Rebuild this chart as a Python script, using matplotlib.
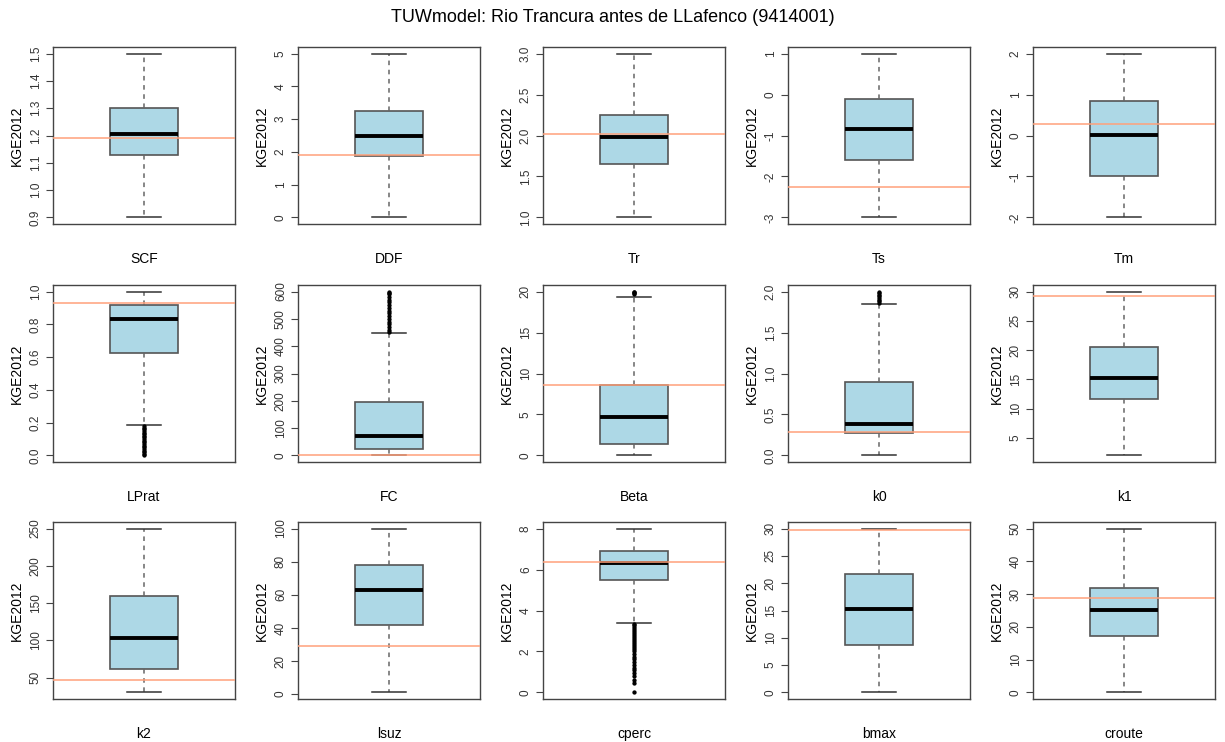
import matplotlib
matplotlib.use("Agg")
import matplotlib.pyplot as plt

plt.rcParams['font.family'] = ['Liberation Sans', 'DejaVu Sans']
plt.rcParams['axes.unicode_minus'] = False

title = "TUWmodel: Rio Trancura antes de LLafenco (9414001)"
params = ["SCF", "DDF", "Tr", "Ts", "Tm",
          "LPrat", "FC", "Beta", "k0", "k1",
          "k2", "lsuz", "cperc", "bmax", "croute"]

# box statistics: lower whisker, q1, median, q3, upper whisker
whis_lo = [0.9, 0.0, 1.0, -3.0, -2.0, 0.185, 0.0, 0.0, 0.0, 2.0, 30.0, 1.0, 3.4, 0.0, 0.0]
q1 = [1.13, 1.87, 1.65, -1.6, -1.0, 0.625, 25.0, 1.35, 0.28, 11.7, 62.0, 42.0, 5.5, 8.6, 17.3]
median = [1.205, 2.48, 1.98, -0.85, 0.02, 0.83, 73.0, 4.75, 0.38, 15.3, 103.0, 63.0, 6.3, 15.3, 25.3]
q3 = [1.30, 3.25, 2.25, -0.1, 0.85, 0.92, 197.0, 8.6, 0.9, 20.6, 160.0, 78.0, 6.9, 21.7, 31.8]
whis_hi = [1.5, 5.0, 3.0, 1.0, 2.0, 1.0, 450.0, 19.3, 1.85, 30.0, 250.0, 100.0, 8.0, 30.0, 50.0]

# best (calibrated) value for each parameter (orange line)
best = [1.19, 1.92, 2.02, -2.25, 0.27, 0.93, 3.0, 8.6, 0.29, 29.3, 47.0, 29.0, 6.35, 29.7, 28.8]

# outliers
outliers = {
    "LPrat": [0.0, 0.01, 0.02, 0.03, 0.04, 0.05, 0.06, 0.07, 0.08, 0.09, 0.10,
              0.11, 0.12, 0.13, 0.14, 0.15, 0.16, 0.17, 0.18],
    "FC": [452, 460, 470, 480, 490, 500, 510, 520, 530, 540, 550, 560, 570,
           580, 590, 595, 600],
    "Beta": [19.7, 19.8, 19.9, 20.0],
    "k0": [1.86, 1.88, 1.9, 1.92, 1.94, 1.96, 1.98, 2.0],
    "cperc": [0.0, 0.45, 0.62, 0.8, 0.95, 1.1, 1.2, 1.35, 1.5, 1.62, 1.75, 1.9,
              2.0, 2.1, 2.2, 2.3, 2.4, 2.5, 2.6, 2.7, 2.8, 2.9, 3.0, 3.1, 3.2,
              3.3, 3.35],
}

yticks = [
    [0.9, 1.0, 1.1, 1.2, 1.3, 1.4, 1.5],
    [0, 1, 2, 3, 4, 5],
    [1.0, 1.5, 2.0, 2.5, 3.0],
    [-3, -2, -1, 0, 1],
    [-2, -1, 0, 1, 2],
    [0.0, 0.2, 0.4, 0.6, 0.8, 1.0],
    [0, 100, 200, 300, 400, 500, 600],
    [0, 5, 10, 15, 20],
    [0.0, 0.5, 1.0, 1.5, 2.0],
    [5, 10, 15, 20, 25, 30],
    [50, 100, 150, 200, 250],
    [0, 20, 40, 60, 80, 100],
    [0, 2, 4, 6, 8],
    [0, 5, 10, 15, 20, 25, 30],
    [0, 10, 20, 30, 40, 50],
]
ytick_labels = [
    ["0.9", "1.0", "1.1", "1.2", "1.3", "1.4", "1.5"],
    None, ["1.0", "1.5", "2.0", "2.5", "3.0"], None, None,
    ["0.0", "0.2", "0.4", "0.6", "0.8", "1.0"], None, None,
    ["0.0", "0.5", "1.0", "1.5", "2.0"], None, None, None, None, None, None,
]

W, H = 1225, 742
fig = plt.figure(figsize=(W / 100, H / 100), dpi=100)
fig.text(0.5, 1 - 18 / H, title, ha="center", va="center", fontsize=13)

row_top = [47, 285, 522]
ax_h = 177
ax_w = 182

for i, name in enumerate(params):
    r, c = divmod(i, 5)
    left = 245 * c + 53
    ax = fig.add_axes([left / W, 1 - (row_top[r] + ax_h) / H, ax_w / W, ax_h / H])

    fl = outliers.get(name, [])
    stats = [dict(whislo=whis_lo[i], q1=q1[i], med=median[i], q3=q3[i],
                  whishi=whis_hi[i], fliers=fl)]
    ax.bxp(stats, positions=[1], widths=0.375, capwidths=0.1875,
           patch_artist=True, showfliers=True,
           boxprops=dict(facecolor="#ADD8E6", edgecolor="#555555", linewidth=1.2),
           medianprops=dict(color="black", linewidth=2.8),
           whiskerprops=dict(color="#666666", linestyle=(0, (3, 3)), linewidth=1.1),
           capprops=dict(color="#333333", linewidth=1.1),
           flierprops=dict(marker="o", markersize=2.1, markerfacecolor="black",
                           markeredgecolor="black", linestyle="none"))
    ax.axhline(best[i], color="#FFA07A", linewidth=1.1, zorder=3)

    lo = min([whis_lo[i]] + fl)
    hi = max([whis_hi[i]] + fl)
    pad = (hi - lo) * 0.04
    ax.set_ylim(lo - pad, hi + pad)
    ax.set_xlim(0.5, 1.5)

    ax.set_xticks([])
    ax.set_yticks(yticks[i])
    if ytick_labels[i] is not None:
        ax.set_yticklabels(ytick_labels[i])
    else:
        ax.set_yticklabels([str(v) for v in yticks[i]])
    ax.tick_params(axis="y", labelsize=8.5, length=5, color="#444444",
                   labelcolor="#333333", pad=3)
    for lab in ax.get_yticklabels():
        lab.set_rotation(90)
        lab.set_va("center")
    for sp in ax.spines.values():
        sp.set_color("#444444")
        sp.set_linewidth(1.0)

    ax.set_ylabel("KGE2012", fontsize=10, labelpad=4)
    ax.set_xlabel(name, fontsize=10, labelpad=20)

fig.savefig("out.png", dpi=100)
